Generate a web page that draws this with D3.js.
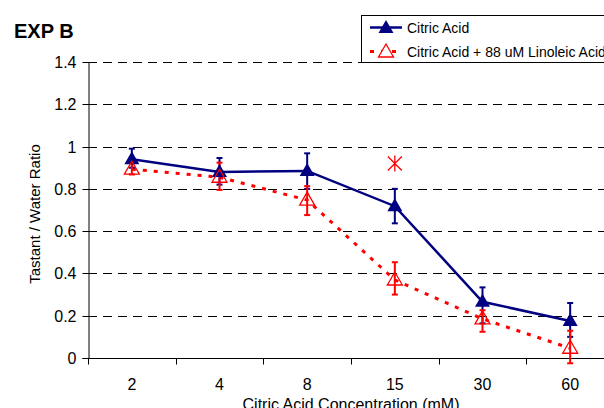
<!DOCTYPE html>
<html><head><meta charset="utf-8">
<script src="https://cdn.jsdelivr.net/npm/d3@7"></script>
<style>
html,body{margin:0;padding:0;background:#fff;}
svg{display:block;font-family:"Liberation Sans",Arial,sans-serif;}
</style></head>
<body>
<svg id="chart" width="604" height="408"></svg>
<script>
const categories = ["2","4","8","15","30","60"];
const citric = [0.94, 0.88, 0.885, 0.718, 0.266, 0.175];
const citricHi = [0.99, 0.946, 0.968, 0.80, 0.334, 0.26];
const citricLo = [0.90, 0.82, 0.80, 0.637, 0.164, 0.10];
const linoleic = [0.893, 0.855, 0.747, 0.369, 0.185, 0.046];
const linoleicHi = [0.922, 0.924, 0.813, 0.453, 0.226, 0.129];
const linoleicLo = [0.868, 0.795, 0.676, 0.30, 0.124, -0.025];
const starCategory = "15";
const starValue = 0.92;
const yTicks = [0, 0.2, 0.4, 0.6, 0.8, 1, 1.2, 1.4];
const seriesNames = ["Citric Acid", "Citric Acid + 88 uM Linoleic Acid"];

const svg = d3.select("#chart");
const L = 88, R = 614, T = 62, B = 358;
const x = d3.scaleBand().domain(categories).range([L, R]);
const y = d3.scaleLinear().domain([0, 1.4]).range([B, T]);
const cx = c => x(c) + x.bandwidth() / 2;

const BLUE = "#000080", RED = "#ff0000";

// gridlines
svg.append("g").selectAll("line").data(yTicks.filter(d => d > 0)).join("line")
  .attr("x1", L).attr("x2", 604).attr("y1", d => Math.round(y(d)) + 0.5).attr("y2", d => Math.round(y(d)) + 0.5)
  .attr("stroke", "#000").attr("stroke-width", 1).attr("stroke-dasharray", "9,6");

// y axis
const yAxis = d3.axisLeft(y).tickValues(yTicks).tickSize(6).tickPadding(6)
  .tickFormat(d => d3.format("~g")(d));
const gy = svg.append("g").attr("transform", `translate(${L + 0.5},0)`).call(yAxis);
gy.select(".domain").attr("stroke", "#000").attr("d", `M-6,${B + 0.5}H0.5V${T}`);
gy.selectAll(".tick line").attr("stroke", "#000");
gy.selectAll(".tick").attr("transform", d => `translate(0,${Math.round(y(d)) + 0.5})`);
gy.selectAll("text").attr("font-size", 16).attr("fill", "#000").attr("font-family", "Liberation Sans, Arial, sans-serif");

// x axis
const gx = svg.append("g").attr("transform", `translate(0,${B + 0.5})`);
gx.append("line").attr("x1", L).attr("x2", 604).attr("stroke", "#000");
const bounds = categories.map(c => x(c)).concat([R]);
gx.selectAll("line.tk").data(bounds).join("line").attr("class", "tk")
  .attr("x1", d => Math.round(d) + 0.5).attr("x2", d => Math.round(d) + 0.5).attr("y1", 0).attr("y2", 6).attr("stroke", "#000");
gx.selectAll("text").data(categories).join("text")
  .attr("x", d => cx(d)).attr("y", 31).attr("text-anchor", "middle").attr("font-size", 16).text(d => d);

// axis titles
svg.append("text").attr("x", (L + R) / 2).attr("y", 410).attr("text-anchor", "middle")
  .attr("font-size", 16).text("Citric Acid Concentration (mM)");
svg.append("text").attr("transform", `translate(40,${(T + B) / 2 + 4}) rotate(-90)`).attr("text-anchor", "middle")
  .attr("font-size", 15).text("Tastant / Water Ratio");
svg.append("text").attr("x", 14).attr("y", 38).attr("font-size", 20).attr("font-weight", "bold").text("EXP B");

// lines
const line = vals => d3.line().x((d, i) => cx(categories[i])).y(d => y(d))(vals);
svg.append("path").attr("d", line(citric)).attr("fill", "none").attr("stroke", BLUE).attr("stroke-width", 2.5);
svg.append("path").attr("d", line(linoleic)).attr("fill", "none").attr("stroke", RED).attr("stroke-width", 3).attr("stroke-dasharray", "4,7");

// error bars
function errBars(hi, lo, color) {
  const g = svg.append("g").attr("stroke", color).attr("stroke-width", 2);
  categories.forEach((c, i) => {
    const px = cx(c);
    g.append("line").attr("x1", px).attr("x2", px).attr("y1", y(hi[i])).attr("y2", y(lo[i]));
    g.append("line").attr("x1", px - 3).attr("x2", px + 3).attr("y1", y(hi[i])).attr("y2", y(hi[i]));
    g.append("line").attr("x1", px - 3).attr("x2", px + 3).attr("y1", y(lo[i])).attr("y2", y(lo[i]));
  });
}
errBars(citricHi, citricLo, BLUE);
errBars(linoleicHi, linoleicLo, RED);

// markers
const tri = (px, py) => `M${px},${py - 8}L${px + 7.5},${py + 5}L${px - 7.5},${py + 5}Z`;
svg.append("g").selectAll("path").data(citric).join("path")
  .attr("d", (d, i) => tri(cx(categories[i]), y(d))).attr("fill", BLUE);
svg.append("g").selectAll("path").data(linoleic).join("path")
  .attr("d", (d, i) => tri(cx(categories[i]), y(d))).attr("fill", "none").attr("stroke", RED).attr("stroke-width", 1.3);

// star marker
const sx = cx(starCategory), sy = y(starValue);
svg.append("path").attr("d", `M${sx - 7},${sy - 7}L${sx + 7},${sy + 7}M${sx - 7},${sy + 7}L${sx + 7},${sy - 7}M${sx},${sy - 8}V${sy + 8}`)
  .attr("stroke", RED).attr("stroke-width", 1.3).attr("fill", "none");

// legend
const lg = svg.append("g");
lg.append("rect").attr("x", 361.5).attr("y", 15.5).attr("width", 260).attr("height", 47)
  .attr("fill", "#fff").attr("stroke", "#000").attr("stroke-width", 1);
lg.append("line").attr("x1", 370).attr("x2", 402).attr("y1", 27.5).attr("y2", 27.5).attr("stroke", BLUE).attr("stroke-width", 2.5);
lg.append("path").attr("d", tri(386, 28)).attr("fill", BLUE);
lg.append("line").attr("x1", 370).attr("x2", 402).attr("y1", 51.5).attr("y2", 51.5).attr("stroke", RED).attr("stroke-width", 3).attr("stroke-dasharray", "4,7");
lg.append("path").attr("d", tri(386, 52)).attr("fill", "#fff").attr("stroke", RED).attr("stroke-width", 1.3);
lg.selectAll("text").data(seriesNames).join("text")
  .attr("x", 407).attr("y", (d, i) => 32.5 + i * 24).attr("font-size", 14).text(d => d);
</script>
</body></html>
